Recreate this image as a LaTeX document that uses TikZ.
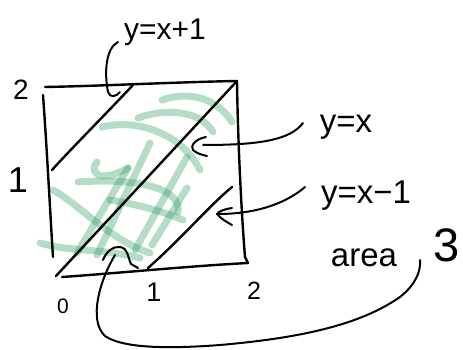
\documentclass[tikz,border=0pt]{standalone}
\usepackage{fontspec}
\setmainfont{Liberation Sans}
\definecolor{hl}{RGB}{42,155,92}
\begin{document}
\begin{tikzpicture}[x=1pt,y=-1pt,
  ink/.style={line width=2.4pt,line cap=round,line join=round},
  thin ink/.style={line width=2pt,line cap=round,line join=round},
  marker/.style={draw=hl,opacity=0.35,line width=7pt,line cap=round},
  hand/.style={inner sep=0pt,font=\fontsize{33}{33}\selectfont}]
\useasboundingbox (0,0) rectangle (463,350);
% green shading strokes
\draw[marker] (162,100) .. controls (185,92) and (215,95) .. (232,122);
\draw[marker] (138,118) .. controls (165,108) and (200,110) .. (213,132);
\draw[marker] (102,127) .. controls (140,118) and (182,135) .. (200,170);
\draw[marker] (97,162) .. controls (88,172) and (100,184) .. (128,168);
\draw[marker] (78,182) .. controls (130,178) and (182,186) .. (178,212);
\draw[marker] (110,200) .. controls (140,205) and (165,212) .. (183,220);
\draw[marker] (53,190) .. controls (80,205) and (110,240) .. (150,253);
\draw[marker] (40,243) .. controls (70,252) and (100,248) .. (140,258);
\draw[marker] (150,143) -- (97,255);
\draw[marker] (128,168) -- (77,253);
\draw[marker] (187,157) -- (135,250);
\draw[marker] (187,188) -- (152,245);
% square
\coordinate (TL) at (45,87);
\coordinate (TR) at (237,81);
\coordinate (BR) at (248,263);
\coordinate (BL) at (62,277);
\draw[ink] (TL) .. controls (100,86) and (180,82) .. (TR);
\draw[ink] (43,95) .. controls (47,150) and (50,210) .. (53,257);
\draw[ink] (TR) .. controls (238,150) and (242,220) .. (245,257) -- (BR);
\draw[ink] (BL) .. controls (120,273) and (190,266) .. (BR);
% diagonals
\coordinate (d0) at (56,276);
\draw[ink] (d0) -- (TR);
\draw[ink] (133,85) .. controls (100,120) and (70,150) .. (52,170);
\draw[ink] (148,268) .. controls (180,240) and (210,205) .. (232,187);
% axis labels
\node[hand,font=\fontsize{28}{28}\selectfont] (l2) at (21,90) {2};
\node[hand,font=\fontsize{36}{36}\selectfont] (l1) at (18,180) {1};
\node[hand,font=\fontsize{21}{21}\selectfont] (b0) at (63,306) {0};
\node[hand,font=\fontsize{27}{27}\selectfont] (b1) at (154,292) {1};
\node[hand,font=\fontsize{25}{25}\selectfont] (b2) at (254,291) {2};
% equation labels
\node[hand,font=\fontsize{30}{30}\selectfont] (e1) at (165,32) {y=x+1};
\node[hand] (e0) at (346,127) {y=x};
\node[hand] (em) at (366,196) {y=x−1};
\node[hand] (ar) at (364,258) {area};
\node[hand,font=\fontsize{47}{47}\selectfont] (three) at (447,245) {3};
% leader for y=x+1
\coordinate (s1) at (118,42);
\draw[thin ink] (s1) .. controls (106,48) and (104,72) .. (108,92)
  .. controls (110,98) and (116,97) .. (120,92);
% leader for y=x
\coordinate (s0) at (303,123);
\coordinate (t0) at (203,145);
\draw[thin ink] (s0) .. controls (290,140) and (260,145) .. (t0);
\draw[thin ink] (206,137) .. controls (195,139) and (190,146) .. (193,150)
  .. controls (196,153) and (202,155) .. (207,156);
% leader for y=x-1
\coordinate (sm) at (305,187);
\coordinate (tm) at (218,214);
\draw[thin ink] (sm) .. controls (290,200) and (262,214) .. (tm);
\draw[thin ink] (232,208) .. controls (225,209) and (219,211) .. (217,214)
  .. controls (221,219) and (227,222) .. (232,225);
% bump and long loop to "area"
\draw[thin ink] (103,260) .. controls (106,252) and (113,246) .. (120,247)
  .. controls (128,248) and (128,258) .. (131,264) -- (138,268);
\coordinate (la) at (115,255);
\coordinate (lb) at (420,260);
\draw[thin ink] (la) .. controls (100,280) and (88,320) .. (105,336)
  .. controls (125,350) and (180,348) .. (220,345)
  .. controls (300,338) and (360,325) .. (400,297)
  .. controls (415,285) and (421,272) .. (lb);
\end{tikzpicture}
\end{document}
